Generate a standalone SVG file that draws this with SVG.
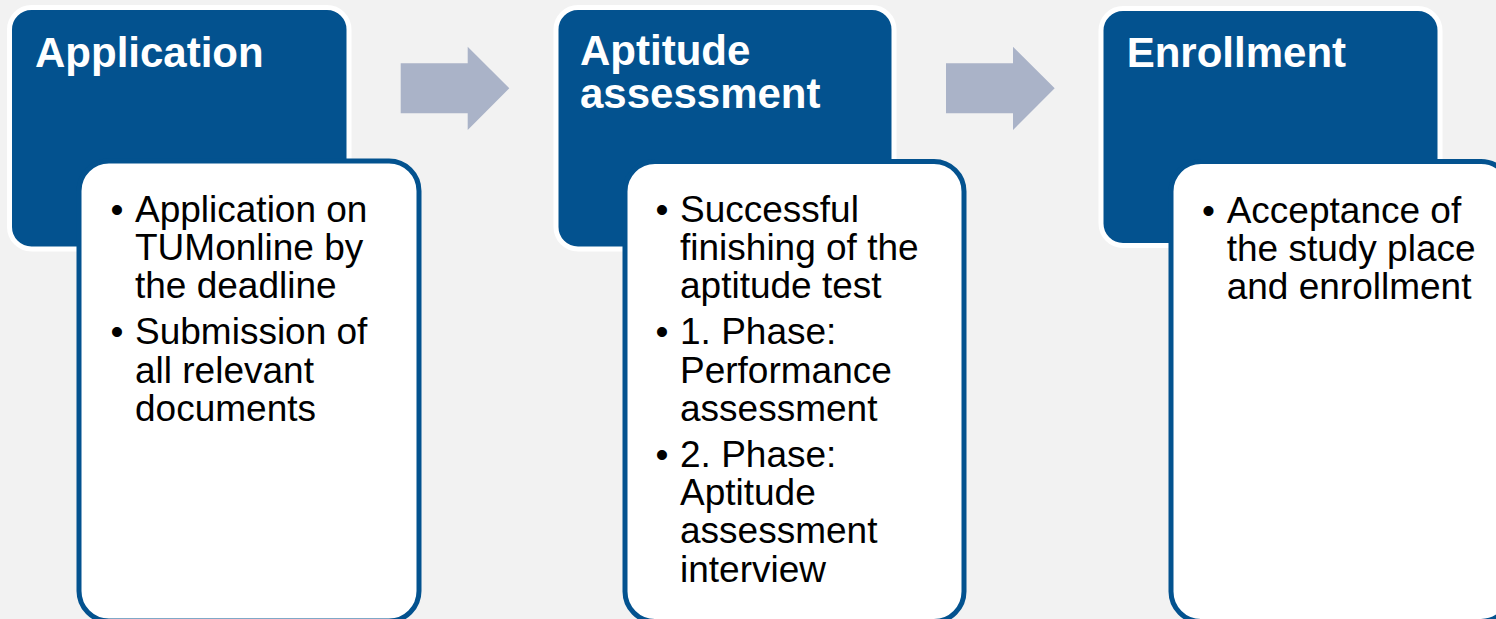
<svg xmlns="http://www.w3.org/2000/svg" width="1496" height="619" viewBox="0 0 1496 619">
  <style>
    .head { fill: #03528f; stroke: #ffffff; stroke-width: 5; }
    .card { fill: #ffffff; stroke: #03528f; stroke-width: 5; }
    .title { font-family: "Liberation Sans", Arial, sans-serif; font-weight: bold; font-size: 42px; fill: #ffffff; }
    .body { font-family: "Liberation Sans", Arial, sans-serif; font-size: 37px; fill: #000000; }
    .step { fill: #aab3c8; }
  </style>
  <rect x="0" y="0" width="1496" height="619" fill="#f2f2f2"/>

  <!-- step 1 -->
  <g id="application">
    <rect class="head" x="9.5" y="7.5" width="339.5" height="241.5" rx="22"/>
    <text class="title" x="35" y="66.5">Application</text>
    <rect class="card" x="79" y="161" width="340" height="460" rx="30"/>
    <g class="body">
      <text x="110.5" y="221.7">•</text>
      <text x="135" y="221.7">Application on</text>
      <text x="135" y="260">TUMonline by</text>
      <text x="135" y="298.3">the deadline</text>
      <text x="110.5" y="344.3">•</text>
      <text x="135" y="344.3">Submission of</text>
      <text x="135" y="382.5">all relevant</text>
      <text x="135" y="420.7">documents</text>
    </g>
  </g>

  <!-- step 2 -->
  <g id="aptitude">
    <rect class="head" x="556" y="7.5" width="338" height="241.5" rx="22"/>
    <text class="title" x="580" y="65">Aptitude</text>
    <text class="title" x="580" y="108.3">assessment</text>
    <rect class="card" x="625" y="161.5" width="339" height="460" rx="30"/>
    <g class="body">
      <text x="655.5" y="221.7">•</text>
      <text x="680" y="221.7">Successful</text>
      <text x="680" y="260">finishing of the</text>
      <text x="680" y="298.3">aptitude test</text>
      <text x="655.5" y="344.3">•</text>
      <text x="680" y="344.3">1. Phase:</text>
      <text x="680" y="382.5">Performance</text>
      <text x="680" y="420.7">assessment</text>
      <text x="655.5" y="466.7">•</text>
      <text x="680" y="466.7">2. Phase:</text>
      <text x="680" y="505">Aptitude</text>
      <text x="680" y="543.3">assessment</text>
      <text x="680" y="581.6">interview</text>
    </g>
  </g>

  <!-- step 3 -->
  <g id="enrollment">
    <rect class="head" x="1101" y="8.5" width="339" height="237" rx="22"/>
    <text class="title" x="1126.7" y="66.7">Enrollment</text>
    <rect class="card" x="1171" y="161.5" width="340" height="460" rx="30"/>
    <g class="body">
      <text x="1202" y="222.5">•</text>
      <text x="1226.7" y="222.5">Acceptance of</text>
      <text x="1226.7" y="260.8">the study place</text>
      <text x="1226.7" y="299.1">and enrollment</text>
    </g>
  </g>

  <!-- connectors -->
  <g id="connectors">
    <polygon class="step" points="400.7,63.3 467.7,63.3 467.7,46.7 509.3,88.3 467.7,130 467.7,113.3 400.7,113.3"/>
    <polygon class="step" points="946,63.3 1013,63.3 1013,46.7 1054.7,88.3 1013,130 1013,113.3 946,113.3"/>
  </g>
</svg>
